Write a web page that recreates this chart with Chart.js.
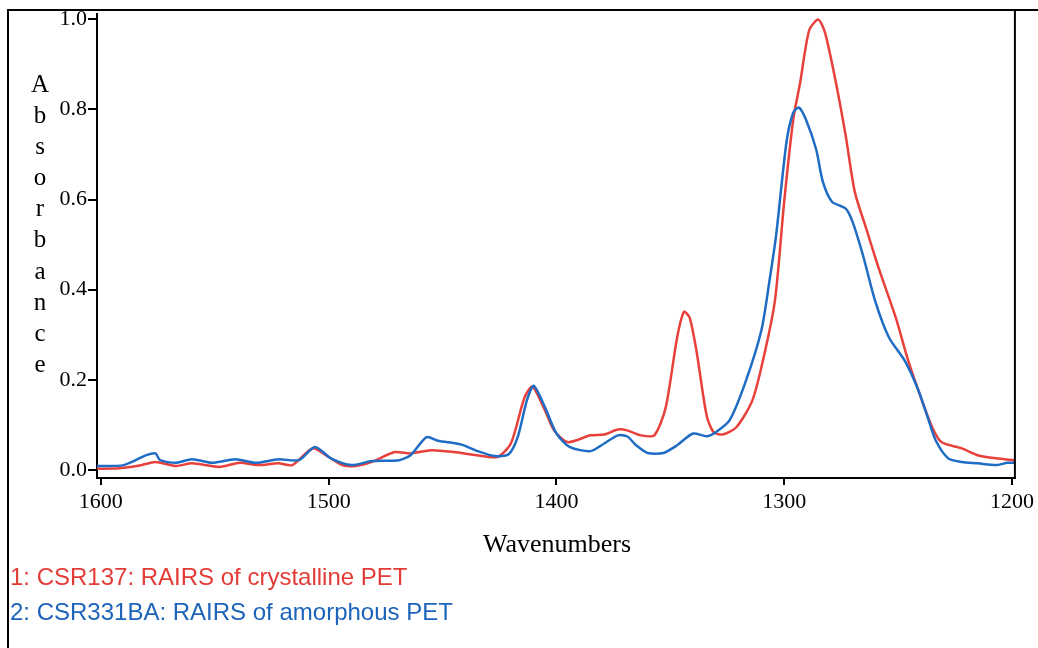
<!DOCTYPE html>
<html>
<head>
<meta charset="utf-8">
<script src="https://cdn.jsdelivr.net/npm/chart.js@4/dist/chart.umd.min.js"></script>
<style>
  html, body { margin: 0; padding: 0; background: #fff; }
  #wrap { position: relative; width: 1038px; height: 648px; overflow: hidden; }
  canvas { position: absolute; left: 0; top: 0; }
  .lbl { position: absolute; white-space: nowrap; }
  #ylab { position: absolute; left: 25px; top: 68px; width: 30px; text-align: center;
          font-family: "Liberation Serif", "DejaVu Serif", serif; font-size: 25px; line-height: 31.1px; color: #000; }
  #ylab span { display: block; }
  #xlab { left: 457px; top: 531px; width: 200px; text-align: center;
          font-family: "Liberation Serif", "DejaVu Serif", serif; font-size: 26px; line-height: 26px; color: #000; }
  .leg { left: 10px; font-family: "Liberation Sans", Arial, sans-serif; font-size: 24px; line-height: 24px; }
</style>
</head>
<body>
<div id="wrap">
  <canvas id="c" width="1038" height="648"></canvas>
  <div id="ylab"></div>
  <div id="xlab" class="lbl"></div>
  <div id="leg1" class="lbl leg"></div>
  <div id="leg2" class="lbl leg"></div>
</div>
<script>
// ---- Data ----
const yAxisTitle = "Absorbance";
const xAxisTitle = "Wavenumbers";
const series1Label = "1: CSR137: RAIRS of crystalline PET";
const series2Label = "2: CSR331BA: RAIRS of amorphous PET";

const xTickValues = [1600, 1500, 1400, 1300, 1200];
const yTickValues = [0.0, 0.2, 0.4, 0.6, 0.8, 1.0];

// Series 1 (crystalline PET, red)
const crystWavenumbers = [1602, 1592, 1583, 1576, 1567, 1560, 1548, 1539, 1531, 1522, 1516, 1507, 1500, 1494, 1488, 1481, 1471, 1464, 1455, 1445, 1435, 1426, 1420, 1414, 1410.5, 1405, 1401, 1395, 1385, 1379, 1373, 1369, 1363, 1357, 1352, 1347, 1344, 1341.5, 1338.5, 1334, 1331, 1327, 1321, 1314, 1309, 1304, 1300, 1296, 1293, 1289, 1285, 1282, 1277, 1273, 1269, 1264, 1258.5, 1251, 1245.5, 1239.5, 1235, 1231, 1222, 1215, 1207, 1199];
const crystAbsorbance = [0.003, 0.004, 0.010, 0.018, 0.009, 0.015, 0.007, 0.016, 0.011, 0.015, 0.011, 0.048, 0.029, 0.011, 0.009, 0.018, 0.040, 0.037, 0.044, 0.040, 0.033, 0.029, 0.059, 0.161, 0.185, 0.132, 0.088, 0.062, 0.077, 0.079, 0.090, 0.088, 0.077, 0.077, 0.139, 0.294, 0.351, 0.338, 0.264, 0.120, 0.084, 0.079, 0.095, 0.154, 0.250, 0.378, 0.595, 0.778, 0.859, 0.976, 0.999, 0.969, 0.852, 0.742, 0.617, 0.536, 0.448, 0.338, 0.242, 0.154, 0.095, 0.062, 0.048, 0.033, 0.026, 0.022];

// Series 2 (amorphous PET, blue)
const amorWavenumbers = [1602.5, 1590, 1580, 1576, 1574, 1567, 1560, 1551, 1541, 1532, 1522, 1513, 1506, 1499, 1490, 1481, 1469, 1464, 1457, 1452, 1442, 1434.5, 1427, 1421, 1417, 1413, 1410, 1405, 1400, 1394, 1385, 1379, 1373, 1369, 1365, 1360, 1353, 1347, 1340, 1334, 1330, 1324, 1317, 1310, 1306.5, 1303.5, 1299, 1296, 1293.5, 1290.5, 1286, 1283, 1279, 1273, 1270, 1265.5, 1260, 1254, 1247, 1241, 1237, 1233.5, 1228, 1222, 1215, 1207, 1202, 1199];
const amorAbsorbance = [0.009, 0.011, 0.033, 0.037, 0.022, 0.016, 0.024, 0.016, 0.024, 0.016, 0.024, 0.022, 0.051, 0.026, 0.011, 0.020, 0.022, 0.033, 0.073, 0.065, 0.057, 0.042, 0.031, 0.035, 0.073, 0.154, 0.187, 0.139, 0.081, 0.051, 0.042, 0.059, 0.077, 0.075, 0.055, 0.038, 0.038, 0.055, 0.081, 0.075, 0.084, 0.110, 0.195, 0.310, 0.418, 0.522, 0.727, 0.793, 0.804, 0.778, 0.712, 0.639, 0.595, 0.580, 0.551, 0.478, 0.374, 0.294, 0.242, 0.176, 0.117, 0.066, 0.026, 0.018, 0.015, 0.011, 0.016, 0.016];

// ---- Styles ----
const RED = '#e8413c';
const BLUE = '#1f6cc4';
const RED_TEXT = '#e33b36';
const BLUE_TEXT = '#1c63b9';

function toPoints(xs, ys) { return xs.map((x, i) => ({ x: x, y: ys[i] })); }

// text labels as HTML
const ylab = document.getElementById('ylab');
yAxisTitle.split('').forEach(ch => { const s = document.createElement('span'); s.textContent = ch; ylab.appendChild(s); });
document.getElementById('xlab').textContent = xAxisTitle;
const l1 = document.getElementById('leg1');
l1.textContent = series1Label; l1.style.color = RED_TEXT; l1.style.top = '565px';
const l2 = document.getElementById('leg2');
l2.textContent = series2Label; l2.style.color = BLUE_TEXT; l2.style.top = '600px';

const framePlugin = {
  id: 'frame',
  afterDraw(chart) {
    const ctx = chart.ctx;
    const a = chart.chartArea;
    ctx.save();
    ctx.strokeStyle = '#000';
    ctx.lineWidth = 2;
    ctx.beginPath();
    // outer frame: top and left
    ctx.moveTo(8, 648); ctx.lineTo(8, 10); ctx.lineTo(1038, 10);
    // plot right border
    ctx.moveTo(a.right, 10); ctx.lineTo(a.right, a.bottom);
    ctx.stroke();
    ctx.restore();
  }
};

const tickFont = { family: '"Liberation Serif", "DejaVu Serif", serif', size: 22 };

new Chart(document.getElementById('c'), {
  type: 'scatter',
  data: {
    datasets: [
      { label: series1Label, data: toPoints(crystWavenumbers, crystAbsorbance), showLine: true,
        borderColor: RED, borderWidth: 2.5, pointRadius: 0, tension: 0.25, order: 2 },
      { label: series2Label, data: toPoints(amorWavenumbers, amorAbsorbance), showLine: true,
        borderColor: BLUE, borderWidth: 2.5, pointRadius: 0, tension: 0.25, order: 1 }
    ]
  },
  options: {
    responsive: false,
    animation: false,
    devicePixelRatio: 1,
    layout: { padding: { left: 0, right: 18, top: 11, bottom: 0 } },
    plugins: { legend: { display: false }, tooltip: { enabled: false } },
    scales: {
      x: {
        type: 'linear', reverse: true, min: 1198.7, max: 1601.7, position: 'bottom',
        afterFit: s => { s.height = 170; },
        afterBuildTicks: s => { s.ticks = xTickValues.map(v => ({ value: v })); },
        ticks: { font: tickFont, color: '#000', padding: 4, maxRotation: 0, autoSkip: false,
                 callback: v => String(v) },
        grid: { drawOnChartArea: false, drawTicks: true, tickLength: 7, color: '#000', lineWidth: 2 },
        border: { display: true, color: '#000', width: 2 }
      },
      y: {
        type: 'linear', min: -0.0176, max: 1.011,
        afterFit: s => { s.width = 97; },
        afterBuildTicks: s => { s.ticks = yTickValues.map(v => ({ value: v })); },
        ticks: { font: tickFont, color: '#000', padding: 1, autoSkip: false,
                 callback: v => Number(v).toFixed(1) },
        grid: { drawOnChartArea: false, drawTicks: true, tickLength: 9, color: '#000', lineWidth: 2 },
        border: { display: true, color: '#000', width: 2 }
      }
    }
  },
  plugins: [framePlugin]
});
</script>
</body>
</html>
